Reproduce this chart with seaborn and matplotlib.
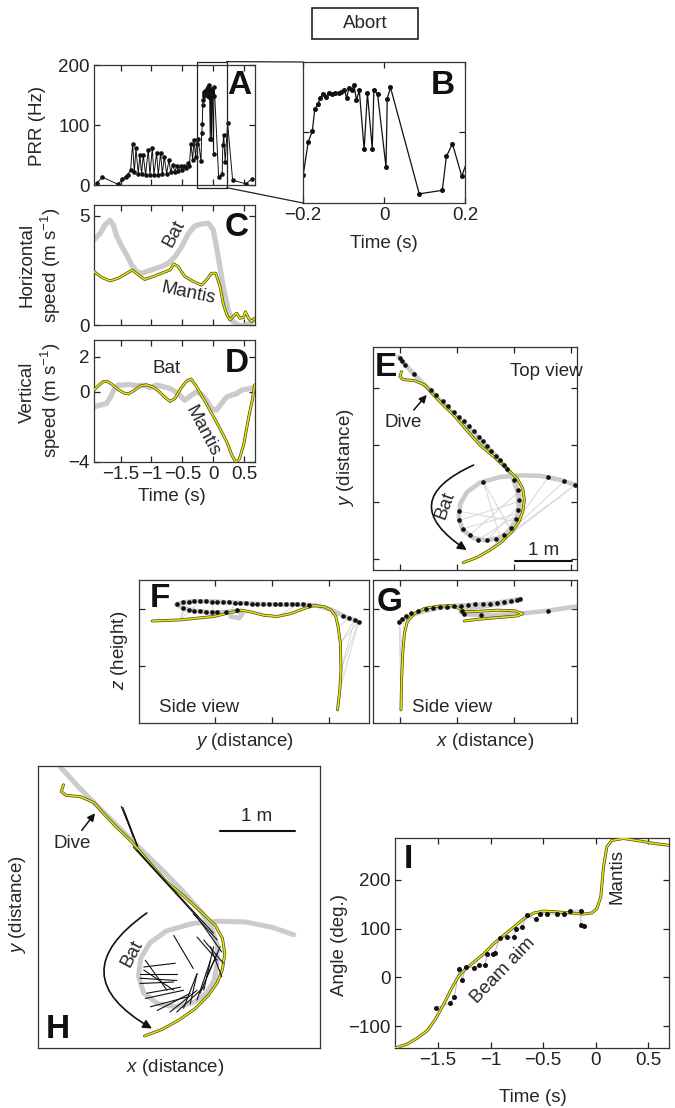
import numpy as np
import pandas as pd
import seaborn as sns
import matplotlib
matplotlib.use("Agg")
from matplotlib import pyplot as plt
from matplotlib.patches import Rectangle, ConnectionPatch

# style -->
sns.set_style("ticks")
plt.rcParams['font.family'] = ['Liberation Sans', 'DejaVu Sans']
plt.rcParams['mathtext.fontset'] = 'custom'
plt.rcParams['mathtext.rm'] = 'Liberation Sans'
plt.rcParams['mathtext.it'] = 'Liberation Sans:italic'
plt.rcParams['axes.unicode_minus'] = True

BAT_GREY = '#cbcbcb'
LINK_GREY = '#d6d6d6'
MANTIS_EDGE = '#4a4a1c'
MANTIS_CORE = '#e6e40c'
FS = 13.5

# ---------------- data -->
# A / B : pulse repetition rate (Hz) vs time (s)
prr_time = [-1.877, -1.796, -1.537, -1.473, -1.419, -1.386, -1.338,
            -1.305, -1.278, -1.251, -1.214, -1.187, -1.160, -1.133, -1.095, -1.052, -1.025,
            -0.987, -0.960, -0.917, -0.890, -0.852, -0.825, -0.793, -0.755, -0.717, -0.690,
            -0.658, -0.620, -0.593, -0.566, -0.529, -0.502, -0.469, -0.442, -0.415, -0.388,
            -0.361, -0.334, -0.313, -0.286, -0.270, -0.243,
            -0.1996, -0.187, -0.177, -0.171, -0.162, -0.158, -0.150, -0.144, -0.135, -0.128,
            -0.120, -0.111, -0.105, -0.098, -0.092, -0.087, -0.080, -0.074, -0.068, -0.061,
            -0.049, -0.041, -0.029, -0.025, -0.016, 0.005, 0.008, 0.016, 0.087, 0.144,
            0.154, 0.169, 0.192,
            0.232, 0.313, 0.529, 0.620]
prr_rate = [4, 13, 1, 10, 14, 17, 25,
            69, 21, 61, 19, 50, 18, 50, 17, 59, 17,
            61, 17, 54, 17, 54, 18, 47, 19, 42, 21,
            33, 22, 32, 23, 31, 25, 32, 28, 36, 32,
            69, 42, 75, 47, 69, 76,
            39.5, 87, 102, 133, 141, 149, 155, 151, 156, 155,
            156, 156, 157, 160, 149, 163, 160, 167, 146, 160,
            76, 156, 77, 160, 155, 51, 148, 164, 13, 18,
            66, 84, 38,
            103, 8, 2, 10]
zoom_window = [-0.27, 0.216]

# C : horizontal speed (m/s)
hbat_t = [-1.93, -1.83, -1.75, -1.67, -1.62, -1.56, -1.48, -1.40, -1.32, -1.24, -1.16, -1.08,
          -1.0, -0.92, -0.84, -0.73, -0.62, -0.51, -0.40, -0.30, -0.19, -0.08, 0.0, 0.08,
          0.16, 0.24, 0.32, 0.40, 0.49, 0.57, 0.65]
hbat = [3.9, 4.2, 4.6, 4.8, 4.6, 4.05, 3.6, 3.2, 2.75, 2.45, 2.37, 2.45,
        2.52, 2.6, 2.68, 2.83, 3.13, 3.6, 4.2, 4.54, 4.63, 4.66, 4.36, 3.13,
        1.76, 0.69, 0.15, 0.0, -0.05, 0.05, 0.23]
hmantis_t = [-1.93, -1.81, -1.67, -1.54, -1.40, -1.31, -1.21, -1.11, -0.97, -0.84, -0.70,
             -0.64, -0.57, -0.46, -0.32, -0.19, -0.11, -0.03, 0.04, 0.11, 0.16, 0.22, 0.27,
             0.32, 0.38, 0.43, 0.49, 0.52, 0.57, 0.62, 0.67]
hmantis = [2.45, 2.19, 2.02, 2.14, 2.37, 2.52, 2.29, 2.09, 2.22, 2.37, 2.52,
           2.80, 2.68, 2.22, 1.99, 1.83, 2.06, 2.37, 2.37, 1.76, 0.99, 0.46, 0.23,
           0.38, 0.54, 0.31, 0.35, 0.61, 0.31, 0.15, 0.31]

# D : vertical speed (m/s)
vbat_t = [-1.93, -1.83, -1.73, -1.66, -1.61, -1.54, -1.46, -1.35, -1.24, -1.13, -1.02, -0.92,
          -0.81, -0.70, -0.57, -0.46, -0.35, -0.27, -0.19, -0.11, -0.03, 0.05, 0.13, 0.22,
          0.30, 0.38, 0.46, 0.54, 0.65]
vbat = [-0.86, -0.76, -0.67, -0.29, 0.10, 0.38, 0.38, 0.42, 0.34, 0.38, 0.23, 0.38,
        0.29, 0.19, -0.10, -0.48, -0.19, 0.0, -0.15, -0.48, -0.95, -1.05, -0.67, -0.29,
        -0.19, -0.10, 0.10, 0.15, 0.23]
vmantis_t = [-1.93, -1.85, -1.78, -1.72, -1.65, -1.55, -1.45, -1.37, -1.28, -1.18, -1.08,
             -0.98, -0.88, -0.78, -0.70, -0.62, -0.52, -0.43, -0.36, -0.27, -0.13, 0.05,
             0.22, 0.30, 0.36, 0.42, 0.49, 0.57, 0.63, 0.67]
vmantis = [0.1, 0.38, 0.58, 0.6, 0.45, 0.15, -0.07, -0.12, 0.08, 0.33, 0.4, 0.28,
           0.02, -0.32, -0.55, -0.38, 0.22, 0.62, 0.73, 0.29, -0.57, -1.71,
           -2.86, -3.6, -4.0, -3.85, -3.05, -1.5, -0.5, 0.4]

# E / H : top view (m)
bat_x = [-0.03, 0.23, 0.47, 0.76, 1.05, 1.35, 1.64, 1.87, 2.0, 2.08, 2.08, 2.04, 1.93,
         1.75, 1.52, 1.29, 1.10, 1.03, 1.06, 1.18, 1.40, 1.75, 2.11, 2.46, 2.81, 3.10]
bat_y = [3.55, 3.26, 3.02, 2.73, 2.44, 2.15, 1.85, 1.59, 1.39, 1.15, 0.92, 0.68, 0.50,
         0.38, 0.33, 0.37, 0.51, 0.74, 0.98, 1.18, 1.34, 1.44, 1.47, 1.46, 1.39, 1.29]
mantis_x = [0.03, 0.0, 0.06, 0.26, 0.44, 0.56, 0.73, 0.94, 1.17, 1.40, 1.64, 1.87, 2.05,
            2.15, 2.18, 2.15, 2.08, 1.96, 1.78, 1.58, 1.35, 1.11]
mantis_y = [3.29, 3.20, 3.15, 3.13, 3.05, 2.91, 2.73, 2.53, 2.26, 2.0, 1.80, 1.59, 1.42,
            1.24, 1.04, 0.83, 0.65, 0.48, 0.30, 0.16, 0.03, -0.06]
call_x = [0.00, 0.04, 0.09, 0.25, 0.55, 0.64, 0.75, 0.85, 0.95, 1.04, 1.12, 1.21, 1.30, 1.38,
          1.45, 1.53, 1.60, 1.68, 1.75, 1.82, 1.88,
          2.0, 2.06, 2.08, 2.07, 2.03, 1.95, 1.83, 1.68, 1.52, 1.37, 1.22, 1.10, 1.04, 1.03,
          1.46, 2.60, 2.88, 3.07]
call_y = [3.52, 3.47, 3.41, 3.25, 2.97, 2.88, 2.78, 2.68, 2.58, 2.50, 2.42, 2.33, 2.24, 2.15,
          2.07, 1.98, 1.90, 1.81, 1.73, 1.65, 1.58,
          1.39, 1.22, 1.04, 0.86, 0.70, 0.55, 0.43, 0.35, 0.33, 0.34, 0.42, 0.53, 0.68, 0.84,
          1.36, 1.44, 1.37, 1.30]
# gray sight lines: call index -> mantis index
e_link_call = [14, 16, 18, 19, 20, 21, 22, 23, 24, 25, 26, 27, 28, 29, 30, 31, 32, 33, 34,
               35, 35, 37, 38, 38, 36]
e_link_mantis = [12, 13, 14, 14, 15, 16, 15, 16, 17, 16, 15, 14, 16, 14, 15, 13, 15, 14, 16,
                 17, 18, 19, 20, 19, 18]

# F : side view, y (m) vs z (m)
f_bat_y = [3.53, 3.27, 3.04, 2.80, 2.45, 2.10, 1.75, 1.40, 1.05, 0.70, 0.46, 0.33, 0.46, 0.70,
           0.99, 1.22, 1.40, 1.49, 1.43, 1.28]
f_bat_z = [-0.23, -0.13, -0.01, 0.06, 0.08, 0.08, 0.09, 0.11, 0.13, 0.14, 0.12, 0.08, 0.01,
           -0.04, -0.06, -0.05, -0.03, -0.09, -0.16, -0.13]
f_mantis_y = [-0.09, 0.40, 0.99, 1.28, 1.46, 1.63, 1.87, 2.10, 2.33, 2.57, 2.74, 2.92, 3.04,
              3.12, 3.16, 3.20, 3.21, 3.19, 3.15]
f_mantis_z = [-0.21, -0.19, -0.13, -0.06, -0.02, -0.05, -0.11, -0.13, -0.08, 0.01, 0.06, 0.04,
              -0.02, -0.13, -0.31, -0.60, -1.07, -1.42, -1.77]
f_call_y = [0.35, 0.45, 0.55, 0.65, 0.75, 0.85, 0.95, 1.05, 1.15, 1.25, 1.35, 1.45, 1.55, 1.65,
            1.75, 1.85, 1.95, 2.05, 2.15, 2.25, 2.35, 2.45, 2.55, 2.65,
            0.45, 0.55, 0.65, 0.75, 0.85, 0.95, 1.05, 1.20, 1.40,
            3.25, 3.35, 3.45, 3.52]
f_call_z = [0.09, 0.12, 0.13, 0.14, 0.14, 0.14, 0.13, 0.13, 0.12, 0.12, 0.11, 0.11, 0.10, 0.09,
            0.09, 0.08, 0.08, 0.08, 0.08, 0.08, 0.08, 0.08, 0.08, 0.07,
            0.02, -0.01, -0.03, -0.04, -0.05, -0.05, -0.06, -0.05, -0.02,
            -0.12, -0.16, -0.19, -0.22]
f_link_call = [2, 4, 6, 10, 21, 24, 27, 30, 34, 35, 35, 36, 36, 36]
f_link_mantis = [1, 1, 2, 3, 7, 1, 2, 2, 14, 15, 16, 15, 16, 17]

# G : side view, x (m) vs z (m)
g_bat_x = [-0.01, 0.13, 0.37, 0.66, 1.01, 1.36, 1.71, 2.01, 2.11, 1.83, 1.48, 1.13, 1.06,
           1.13, 1.48, 2.01, 2.59, 3.12]
g_bat_z = [-0.23, -0.13, -0.05, 0.02, 0.06, 0.08, 0.11, 0.16, 0.18, 0.10, 0.05, 0.01, -0.05,
           -0.09, -0.11, -0.09, -0.03, 0.05]
g_mantis_x = [0.02, 0.03, 0.05, 0.08, 0.13, 0.25, 0.43, 0.66, 0.89, 1.04, 1.13, 1.36, 1.71,
              2.01, 2.15, 2.06, 1.71, 1.36, 1.13]
g_mantis_z = [-1.77, -1.25, -0.78, -0.43, -0.22, -0.08, 0.01, 0.05, 0.06, 0.01, -0.05, -0.04,
              -0.02, -0.03, -0.08, -0.12, -0.15, -0.18, -0.21]
g_call_x = [-0.01, 0.04, 0.10, 0.20, 0.32, 0.45, 0.58, 0.70, 0.82, 0.95, 1.07, 1.20, 1.32,
            1.45, 1.57, 1.70, 1.82, 1.95, 2.05, 2.11, 1.08, 1.12, 1.42, 2.60]
g_call_z = [-0.22, -0.17, -0.12, -0.07, -0.03, 0.0, 0.02, 0.03, 0.04, 0.05, 0.06, 0.07, 0.08,
            0.08, 0.09, 0.10, 0.12, 0.14, 0.16, 0.18, -0.03, -0.09, -0.11, -0.03]
g_link_call = [0, 0, 0, 1, 20, 21, 22]
g_link_mantis = [0, 1, 2, 3, 12, 16, 14]

# H : beam aim segments (m)
beam_x0 = [0.80, 0.82, 0.85, 0.96, 1.01, 1.76, 1.81, 1.05, 1.05, 1.05, 1.10, 1.12, 1.14, 1.12,
           1.19, 1.28, 1.50, 1.45, 1.54, 1.63, 1.72, 1.81, 1.85, 1.90, 1.94, 1.81, 1.90, 1.99, 1.10]
beam_y0 = [3.00, 2.99, 2.91, 2.46, 2.42, 1.57, 1.53, 0.77, 0.71, 0.64, 0.86, 0.95, 0.51, 0.44,
           0.33, 0.28, 1.28, 0.26, 0.26, 0.31, 0.37, 0.42, 0.51, 0.55, 0.73, 1.26, 1.22, 1.13, 0.82]
beam_x1 = [1.01, 1.02, 0.96, 1.81, 2.03, 2.08, 2.14, 1.54, 1.54, 1.50, 1.52, 1.41, 1.59, 1.63,
           1.68, 1.72, 1.76, 1.81, 1.90, 1.81, 1.81, 1.99, 2.08, 2.03, 2.12, 2.08, 2.16, 2.14, 1.50]
beam_y1 = [2.48, 2.47, 2.59, 1.53, 1.31, 1.22, 1.06, 0.77, 0.68, 0.66, 0.91, 0.55, 0.59, 0.55,
           0.46, 0.51, 0.84, 0.55, 0.59, 0.77, 0.77, 0.95, 1.04, 1.13, 1.13, 0.95, 0.91, 0.73, 0.55]

# I : angle (deg) vs time (s)
angle_t = [-1.906, -1.795, -1.70, -1.605, -1.525, -1.446, -1.367, -1.303, -1.24, -1.16, -1.066,
           -0.97, -0.875, -0.78, -0.685, -0.59, -0.495, -0.40, -0.24, -0.114, -0.035, 0.013,
           0.05, 0.076, 0.108, 0.155, 0.266, 0.39, 0.55, 0.70]
angle_mantis = [-145, -137, -125, -110, -86, -55, -21, 3, 17, 31, 48,
                69, 86, 103, 120, 132, 136, 135, 132, 130, 132, 141,
                165, 226, 268, 281, 285, 281, 275, 271]
beam_t = [-1.519, -1.383, -1.345, -1.30, -1.27, -1.234, -1.16, -1.113, -1.05, -1.034, -0.977,
          -0.96, -0.913, -0.844, -0.78, -0.758, -0.70, -0.653, -0.568, -0.527, -0.463, -0.368,
          -0.304, -0.24, -0.14, -0.14, -0.108]
beam_angle = [-62, -53, -41, 17, -5, 22, 19, 25, 26, 48, 47,
              51, 81, 82, 82, 99, 103, 127, 120, 130, 130, 130,
              130, 136, 137, 108, 105]

time_ticks = [-1.5, -1, -0.5, 0, 0.5]
time_labels = ['\u22121.5', '\u22121', '\u22120.5', '0', '0.5']

# ---------------- helpers -->
W, H = 675, 1108


def box(l, t, r, b):
    return [l / W, 1 - b / H, (r - l) / W, (b - t) / H]


def frame(ax, labels=True):
    ax.tick_params(direction='in', top=True, right=True, length=4, width=0.9,
                   labelsize=FS, pad=3, colors='#222222')
    if not labels:
        ax.tick_params(labelbottom=False, labelleft=False)
    for s in ax.spines.values():
        s.set_linewidth(0.9)
        s.set_color('#333333')


def bat_line(ax, x, y, lw=4.0):
    sns.lineplot(x=x, y=y, ax=ax, sort=False, estimator=None, color=BAT_GREY, lw=lw,
                 solid_capstyle='round', legend=False, zorder=2)


def mantis_line(ax, x, y):
    sns.lineplot(x=x, y=y, ax=ax, sort=False, estimator=None, color=MANTIS_EDGE, lw=2.1,
                 legend=False, zorder=4)
    sns.lineplot(x=x, y=y, ax=ax, sort=False, estimator=None, color=MANTIS_CORE, lw=1.1,
                 legend=False, zorder=5)


def links(ax, cx, cy, mx, my, ci, mi):
    for a, b in zip(ci, mi):
        ax.plot([cx[a], mx[b]], [cy[a], my[b]], color=LINK_GREY, lw=0.7, zorder=1)


def calls(ax, x, y, s=9):
    sns.scatterplot(x=x, y=y, ax=ax, color='#111111', s=s, linewidth=0, zorder=6, legend=False)


def letter(ax, txt, x, y):
    ax.text(x, y, txt, transform=ax.transAxes, fontsize=24, fontweight='bold',
            ha='center', va='center', color='#111111', zorder=10)


fig = plt.figure(figsize=(6.75, 11.08), dpi=100)

# Abort header -->
fig.patches.append(Rectangle((312 / W, 1 - 39 / H), 106 / W, 31 / H, transform=fig.transFigure,
                             fill=False, lw=1.2, edgecolor='#222222'))
fig.text(365 / W, 1 - 24 / H, 'Abort', ha='center', va='center', fontsize=FS)

# ---------------- A -->
axA = fig.add_axes(box(94, 65, 255, 185))
sns.lineplot(x=prr_time, y=prr_rate, ax=axA, sort=False, estimator=None, color='#111111', lw=0.7,
             marker='o', markersize=3.3, markeredgewidth=0, legend=False)
axA.set_xlim(-1.93, 0.675)
axA.set_ylim(0, 200)
axA.set_xticks(time_ticks)
axA.set_yticks([0, 100, 200])
frame(axA)
axA.tick_params(labelbottom=False)
axA.add_patch(Rectangle((zoom_window[0], -4.4), zoom_window[1] - zoom_window[0], 210,
                        fill=False, lw=0.9, edgecolor='#222222', clip_on=False, zorder=7))
letter(axA, 'A', 0.905, 0.826)
fig.text(37 / W, 1 - 126 / H, 'PRR (Hz)', rotation=90, ha='center', va='center', fontsize=FS)

# ---------------- B -->
axB = fig.add_axes(box(303, 62, 465, 203))
sns.lineplot(x=prr_time, y=prr_rate, ax=axB, sort=False, estimator=None, color='#111111', lw=0.9,
             marker='o', markersize=3.6, markeredgewidth=0, legend=False)
axB.set_xlim(-0.2, 0.2)
axB.set_ylim(0, 200)
axB.set_xticks([-0.2, 0, 0.2])
axB.set_xticklabels(['\u22120.2', '0', '0.2'])
axB.set_yticks([100])
frame(axB)
axB.tick_params(labelleft=False)
letter(axB, 'B', 0.864, 0.83)
fig.text(384 / W, 1 - 243 / H, 'Time (s)', ha='center', va='center', fontsize=FS)

for yA, yB in [(-4.4, 0), (205.6, 1)]:
    con = ConnectionPatch(xyA=(zoom_window[1], yA), coordsA=axA.transData,
                          xyB=(0, yB), coordsB=axB.transAxes, color='#222222', lw=0.9)
    fig.add_artist(con)

# ---------------- C -->
axC = fig.add_axes(box(94, 205, 255, 325))
bat_line(axC, hbat_t, hbat, lw=3.8)
mantis_line(axC, hmantis_t, hmantis)
axC.set_xlim(-1.93, 0.675)
axC.set_ylim(0, 5.5)
axC.set_xticks(time_ticks)
axC.set_yticks([0, 5])
frame(axC)
axC.tick_params(labelbottom=False)
axC.text(-0.64, 4.2, 'Bat', rotation=62, fontsize=FS, ha='center', va='center')
axC.text(-0.40, 1.45, 'Mantis', rotation=-12, fontsize=FS, ha='center', va='center')
letter(axC, 'C', 0.886, 0.81)
fig.text(27 / W, 1 - 265 / H, 'Horizontal', rotation=90, ha='center', va='center', fontsize=FS)
fig.text(51 / W, 1 - 265 / H, 'speed (m s$^{\\mathregular{-1}}$)', rotation=90, ha='center',
         va='center', fontsize=FS)

# ---------------- D -->
axD = fig.add_axes(box(94, 340, 255, 462))
bat_line(axD, vbat_t, vbat, lw=3.8)
mantis_line(axD, vmantis_t, vmantis)
axD.set_xlim(-1.93, 0.675)
axD.set_ylim(-4, 2.95)
axD.set_xticks(time_ticks)
axD.set_xticklabels(time_labels)
axD.set_yticks([-4, 0, 2])
axD.set_yticklabels(['\u22124', '0', '2'])
frame(axD)
axD.text(-0.75, 1.3, 'Bat', fontsize=FS, ha='center', va='center')
axD.text(-0.17, -2.25, 'Mantis', rotation=-62, fontsize=FS, ha='center', va='center')
letter(axD, 'D', 0.886, 0.81)
fig.text(27 / W, 1 - 392 / H, 'Vertical', rotation=90, ha='center', va='center', fontsize=FS)
fig.text(51 / W, 1 - 400 / H, 'speed (m s$^{\\mathregular{-1}}$)', rotation=90, ha='center',
         va='center', fontsize=FS)
fig.text(172 / W, 1 - 497 / H, 'Time (s)', ha='center', va='center', fontsize=FS)

# ---------------- E -->
axE = fig.add_axes(box(373, 347, 577, 570))
links(axE, call_x, call_y, mantis_x, mantis_y, e_link_call, e_link_mantis)
bat_line(axE, bat_x, bat_y, lw=3.3)
mantis_line(axE, mantis_x, mantis_y)
calls(axE, call_x, call_y, s=11)
axE.set_xlim(-0.47, 3.1)
axE.set_ylim(-0.19, 3.72)
axE.set_xticks([0, 1, 2, 3])
axE.set_yticks([0, 1, 2, 3])
frame(axE, labels=False)
axE.annotate('', xy=(1.17, 0.16), xytext=(1.29, 1.65),
             arrowprops=dict(arrowstyle='-|>', connectionstyle='arc3,rad=0.9', color='#111111',
                             lw=1.2, mutation_scale=13, shrinkA=0, shrinkB=0))
axE.text(0.79, 0.95, 'Bat', rotation=70, fontsize=FS, ha='center', va='center')
axE.annotate('Dive', xy=(0.47, 2.88), xytext=(0.05, 2.39), fontsize=FS, ha='center', va='center',
             arrowprops=dict(arrowstyle='-|>', color='#111111', lw=1.1, mutation_scale=11,
                             shrinkA=1, shrinkB=0))
axE.plot([2.02, 3.02], [-0.03, -0.03], color='#111111', lw=1.5)
axE.text(2.52, 0.15, '1 m', fontsize=FS, ha='center', va='center')
axE.text(0.85, 0.89, 'Top view', transform=axE.transAxes, fontsize=FS, ha='center', va='center')
letter(axE, 'E', 0.065, 0.91)
fig.text(346 / W, 1 - 458 / H, '$y$ (distance)', rotation=90, ha='center', va='center', fontsize=FS)

# ---------------- F -->
axF = fig.add_axes(box(139, 580, 369, 723))
links(axF, f_call_y, f_call_z, f_mantis_y, f_mantis_z, f_link_call, f_link_mantis)
bat_line(axF, f_bat_y, f_bat_z, lw=3.3)
mantis_line(axF, f_mantis_y, f_mantis_z)
calls(axF, f_call_y, f_call_z, s=11)
axF.set_xlim(-0.32, 3.70)
axF.set_ylim(-2.0, 0.51)
axF.set_xticks([1, 2, 3])
axF.set_yticks([-1, 0])
frame(axF, labels=False)
axF.text(0.26, 0.11, 'Side view', transform=axF.transAxes, fontsize=FS, ha='center', va='center')
letter(axF, 'F', 0.09, 0.87)
fig.text(120 / W, 1 - 650 / H, '$z$ (height)', rotation=90, ha='center', va='center', fontsize=FS)
fig.text(244 / W, 1 - 741 / H, '$y$ (distance)', ha='center', va='center', fontsize=FS)

# ---------------- G -->
axG = fig.add_axes(box(373, 580, 577, 723))
links(axG, g_call_x, g_call_z, g_mantis_x, g_mantis_z, g_link_call, g_link_mantis)
bat_line(axG, g_bat_x, g_bat_z, lw=3.3)
mantis_line(axG, g_mantis_x, g_mantis_z)
calls(axG, g_call_x, g_call_z, s=11)
axG.set_xlim(-0.47, 3.1)
axG.set_ylim(-2.0, 0.51)
axG.set_xticks([0, 1, 2, 3])
axG.set_yticks([-1, 0])
frame(axG, labels=False)
axG.text(0.39, 0.11, 'Side view', transform=axG.transAxes, fontsize=FS, ha='center', va='center')
letter(axG, 'G', 0.08, 0.84)
fig.text(485 / W, 1 - 741 / H, '$x$ (distance)', ha='center', va='center', fontsize=FS)

# ---------------- H -->
axH = fig.add_axes(box(38, 766, 320, 1048))
bat_line(axH, bat_x, bat_y, lw=3.6)
mantis_line(axH, mantis_x, mantis_y)
for x0, y0, x1, y1 in zip(beam_x0, beam_y0, beam_x1, beam_y1):
    axH.plot([x0, x1], [y0, y1], color='#111111', lw=0.8, zorder=6)
axH.set_xlim(-0.31, 3.45)
axH.set_ylim(-0.22, 3.54)
axH.set_xticks([])
axH.set_yticks([])
frame(axH, labels=False)
axH.annotate('', xy=(1.21, 0.04), xytext=(1.14, 1.58),
             arrowprops=dict(arrowstyle='-|>', connectionstyle='arc3,rad=0.78', color='#111111',
                             lw=1.2, mutation_scale=13, shrinkA=0, shrinkB=0))
axH.text(0.94, 1.04, 'Bat', rotation=62, fontsize=FS, ha='center', va='center')
axH.annotate('Dive', xy=(0.45, 2.91), xytext=(0.14, 2.51), fontsize=FS, ha='center', va='center',
             arrowprops=dict(arrowstyle='-|>', color='#111111', lw=1.1, mutation_scale=11,
                             shrinkA=1, shrinkB=0))
axH.plot([2.11, 3.11], [2.67, 2.67], color='#111111', lw=1.5)
axH.text(2.61, 2.87, '1 m', fontsize=FS, ha='center', va='center')
letter(axH, 'H', 0.07, 0.065)
fig.text(18 / W, 1 - 905 / H, '$y$ (distance)', rotation=90, ha='center', va='center', fontsize=FS)
fig.text(175 / W, 1 - 1067 / H, '$x$ (distance)', ha='center', va='center', fontsize=FS)

# ---------------- I -->
axI = fig.add_axes(box(395, 838, 669, 1048))
sns.lineplot(x=beam_t, y=beam_angle, ax=axI, sort=False, estimator=None, color='#bdbdbd', lw=0.8,
             legend=False, zorder=2)
mantis_line(axI, angle_t, angle_mantis)
calls(axI, beam_t, beam_angle, s=13)
axI.set_xlim(-1.91, 0.70)
axI.set_ylim(-145, 286)
axI.set_xticks(time_ticks)
axI.set_xticklabels(time_labels)
axI.set_yticks([-100, 0, 100, 200])
axI.set_yticklabels(['\u2212100', '0', '100', '200'])
frame(axI)
axI.text(-0.88, 14, 'Beam aim', rotation=46, fontsize=FS, ha='center', va='center')
axI.text(0.2, 206, 'Mantis', rotation=90, fontsize=FS, ha='center', va='center')
letter(axI, 'I', 0.05, 0.90)
fig.text(340 / W, 1 - 945 / H, 'Angle (deg.)', rotation=90, ha='center', va='center', fontsize=FS)
fig.text(533 / W, 1 - 1097 / H, 'Time (s)', ha='center', va='center', fontsize=FS)

for ax in [axA, axB, axC, axD, axE, axF, axG, axH, axI]:
    ax.set_xlabel('')
    ax.set_ylabel('')

fig.savefig('out.png', dpi=100)
